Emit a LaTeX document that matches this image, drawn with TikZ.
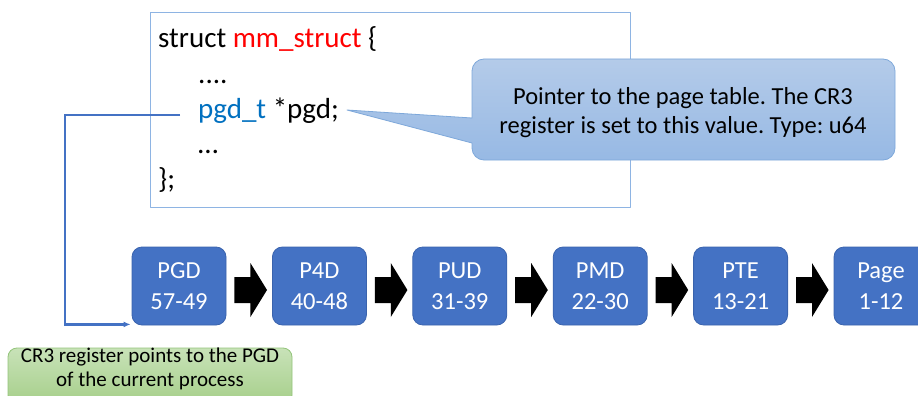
\documentclass[tikz,border=0pt]{standalone}
\usepackage{fontspec}
\setmainfont{Carlito}
\usepackage{xcolor}
\usetikzlibrary{arrows.meta,calc,positioning}
\frenchspacing
\definecolor{ptFill}{HTML}{4472C4}
\definecolor{ptEdge}{HTML}{3A63AD}
\definecolor{ptCodeLine}{HTML}{8EB4E3}
\definecolor{ptRed}{HTML}{FF0000}
\definecolor{ptBlue}{HTML}{0070C0}
\definecolor{ptNoteTop}{HTML}{B4CBE9}
\definecolor{ptNoteBot}{HTML}{97B9E4}
\definecolor{ptNoteEdge}{HTML}{7EA8DA}
\definecolor{ptGreenTop}{HTML}{C8E2B8}
\definecolor{ptGreenBot}{HTML}{A6CF8A}
\definecolor{ptGreenEdge}{HTML}{93C47A}
\tikzset{
  pt diagram/.style={x=1pt, y=-1pt, line cap=round, line join=round},
  pt code box/.style={draw=ptCodeLine, line width=0.8pt, fill=white,
    minimum width=480pt, minimum height=195pt},
  pt code/.style={font=\fontsize{29}{35}\selectfont, inner sep=0pt,
    anchor=base west},
  pt level/.style={draw=ptEdge, fill=ptFill, line width=0.8pt,
    rounded corners=10pt, minimum width=94pt, minimum height=78pt,
    text=white, align=center, inner sep=0pt,
    font=\fontsize{24.5}{31}\selectfont},
  pt step/.style={fill=black},
  pt note/.style={draw=ptNoteEdge, line width=0.8pt,
    top color=ptNoteTop, bottom color=ptNoteBot},
  pt note text/.style={align=center, font=\fontsize{24.5}{29}\selectfont},
  pt hint/.style={draw=ptGreenEdge, line width=0.8pt, rounded corners=9pt,
    top color=ptGreenTop, bottom color=ptGreenBot,
    minimum width=284pt, minimum height=56pt, inner sep=0pt},
  pt hint text/.style={align=center, font=\fontsize{21}{23.5}\selectfont},
  pt pointer/.style={-{Latex[length=7pt,width=6pt]}, draw=ptFill,
    line width=2.2pt, line cap=butt, line join=miter}
}
\begin{document}
\begin{tikzpicture}[pt diagram]
\useasboundingbox (0,0) rectangle (918,396);
% mm_struct source
\node[pt code box] (mm) at (390,109.5) {};
\node[pt code] (l1) at (158,48) {struct \textcolor{ptRed}{mm\_struct} \{};
\node[pt code] (l2) at (198,83) {....};
\node[pt code] (l3) at (198,118) {\textcolor{ptBlue}{pgd\_t} *pgd;};
\node[pt code] (l4) at (198,153) {\dots};
\node[pt code] (l5) at (158,188) {\};};
\coordinate (tip) at ([xshift=8pt,yshift=8pt]l3.base east);
\coordinate (cr3) at ([xshift=-18pt,yshift=3pt]l3.base west);

% callout
\path[pt note] (683,59) [rounded corners=12pt] -- (895,59) -- (895,160)
  -- (472,160) [sharp corners] -- (472,143) -- (tip) -- (472,118)
  -- (472,100) [rounded corners=12pt] -- (472,59) -- cycle;
\node[pt note text] (note) at (683,113)
  {Pointer to the page table. The CR3\\register is set to this value. Type: u64};

% page table levels
\node[pt level] (pgd) at (179,286) {PGD\\57-49};
\node[pt level, right=45.6pt of pgd] (p4d) {P4D\\40-48};
\node[pt level, right=45.6pt of p4d] (pud) {PUD\\31-39};
\node[pt level, right=45.6pt of pud] (pmd) {PMD\\22-30};
\node[pt level, right=45.6pt of pmd] (pte) {PTE\\13-21};
\node[pt level, right=45.6pt of pte] (page) {Page\\1-12};
\foreach \a/\b in {pgd/p4d,p4d/pud,pud/pmd,pmd/pte,pte/page}
  \fill[pt step] let \p1=(\a.east), \p2=(\b.west) in
    (\x1+8pt,\y1+9pt) -- (\x1+24pt,\y1+9pt) -- (\x1+24pt,\y1+23pt)
    -- (\x2-5pt,\y1-4pt) -- (\x1+24pt,\y1-31pt) -- (\x1+24pt,\y1-17pt)
    -- (\x1+8pt,\y1-17pt) -- cycle;

% CR3 link
\draw[pt pointer] (cr3) -- (65,115) |- ([xshift=-1pt,yshift=1pt]pgd.south west);
\node[pt hint] (hint) at (150,376) {};
\node[pt hint text] (hinttext) at (150,369)
  {CR3 register points to the PGD\\of the current process};
\end{tikzpicture}
\end{document}
